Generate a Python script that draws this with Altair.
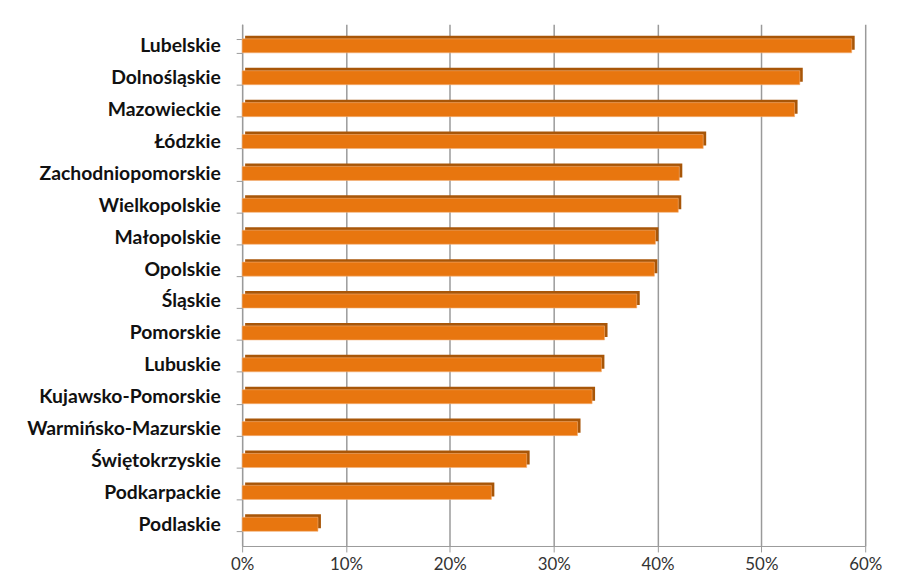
import altair as alt
import pandas as pd

regions = ["Lubelskie", "Dolnośląskie", "Mazowieckie", "Łódzkie", "Zachodniopomorskie",
           "Wielkopolskie", "Małopolskie", "Opolskie", "Śląskie", "Pomorskie", "Lubuskie",
           "Kujawsko-Pomorskie", "Warmińsko-Mazurskie", "Świętokrzyskie", "Podkarpackie", "Podlaskie"]
values = [0.587, 0.537, 0.532, 0.444, 0.421, 0.420, 0.398, 0.397, 0.380, 0.349, 0.346,
          0.337, 0.323, 0.274, 0.240, 0.073]
x_ticks = [0, 0.1, 0.2, 0.3, 0.4, 0.5, 0.6]

df = pd.DataFrame({"region": regions, "value": values})

W, H = 628, 526

x = alt.X("value:Q", scale=alt.Scale(domain=[0, 0.6], nice=False),
          axis=alt.Axis(format=".0%", values=x_ticks, title=None, grid=True,
                        gridColor="#9a9a9a", gridWidth=1.5, domainColor="#9a9a9a",
                        tickColor="#9a9a9a", tickSize=6, labelFontSize=17,
                        labelFont="Lato", labelColor="#333", labelPadding=5,
                        labelFlush=False))
y = alt.Y("region:N", sort=regions,
          scale=alt.Scale(paddingInner=0.56, paddingOuter=0.46),
          axis=alt.Axis(title=None, domainColor="#9a9a9a", tickColor="#9a9a9a",
                        tickBand="extent", tickSize=6, labelFontSize=19.5,
                        labelFont="Lato", labelFontWeight="bold", labelColor="#111",
                        labelPadding=16, labelLimit=400))

shadow = alt.Chart(df).mark_bar(color="#A85608", xOffset=3, yOffset=-3).encode(x=x, y=y)
front = alt.Chart(df).mark_bar(color="#E8760F", stroke="#F3B27A", strokeWidth=0.6).encode(x=x, y=y)

chart = alt.layer(shadow, front).properties(
    width=W, height=H,
    autosize=alt.AutoSizeParams(type="none"),
    padding={"left": 236, "top": 14, "right": 26, "bottom": 32},
).configure_view(stroke=None).configure_axisY(grid=False)

chart.save("out.html", embed_options={"renderer": "svg", "actions": False})
